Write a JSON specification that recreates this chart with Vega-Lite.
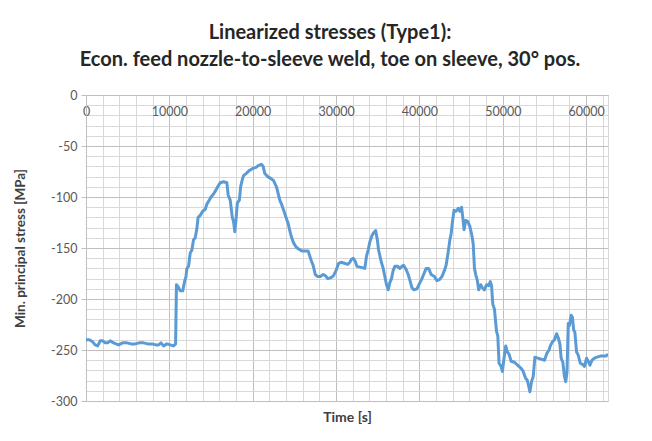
{
  "$schema": "https://vega.github.io/schema/vega-lite/v6.json",
  "width": 522,
  "height": 306,
  "autosize": {"type": "none"},
  "padding": {"left": 86, "top": 95, "right": 44, "bottom": 40},
  "background": "white",
  "config": {"view": {"stroke": "#d9d9d9"}, "font": "Lato"},
  "title": {
    "text": ["Linearized stresses (Type1):", "Econ. feed nozzle-to-sleeve weld, toe on sleeve, 30° pos."],
    "font": "Lato",
    "fontSize": 20,
    "fontWeight": "bold",
    "color": "#262626",
    "anchor": "middle",
    "dx": -17,
    "offset": 19,
    "lineHeight": 27
  },
  "data": {
    "values": [
      {"t": 0, "v": -240}, {"t": 400, "v": -240}, {"t": 800, "v": -242}, {"t": 1100, "v": -245}, {"t": 1400, "v": -246},
      {"t": 1700, "v": -241}, {"t": 2000, "v": -241}, {"t": 2300, "v": -243}, {"t": 2600, "v": -243}, {"t": 2900, "v": -241},
      {"t": 3300, "v": -243}, {"t": 3900, "v": -245}, {"t": 4400, "v": -243}, {"t": 4900, "v": -243}, {"t": 5400, "v": -244},
      {"t": 5900, "v": -244}, {"t": 6400, "v": -243}, {"t": 6900, "v": -243}, {"t": 7400, "v": -244}, {"t": 7900, "v": -244},
      {"t": 8400, "v": -245}, {"t": 8700, "v": -245}, {"t": 9000, "v": -243}, {"t": 9300, "v": -246}, {"t": 9700, "v": -244},
      {"t": 10100, "v": -245}, {"t": 10500, "v": -246}, {"t": 10750, "v": -244}, {"t": 10850, "v": -186}, {"t": 11050, "v": -188},
      {"t": 11300, "v": -192}, {"t": 11600, "v": -192}, {"t": 11850, "v": -182}, {"t": 12000, "v": -178}, {"t": 12100, "v": -170},
      {"t": 12300, "v": -168}, {"t": 12500, "v": -155}, {"t": 12700, "v": -152}, {"t": 12900, "v": -142}, {"t": 13100, "v": -140},
      {"t": 13300, "v": -131}, {"t": 13450, "v": -120}, {"t": 13700, "v": -118}, {"t": 14000, "v": -114}, {"t": 14300, "v": -112},
      {"t": 14500, "v": -107}, {"t": 14800, "v": -103}, {"t": 15000, "v": -100}, {"t": 15300, "v": -97}, {"t": 15600, "v": -93},
      {"t": 15800, "v": -90}, {"t": 16100, "v": -86}, {"t": 16500, "v": -85}, {"t": 16900, "v": -86}, {"t": 17050, "v": -98},
      {"t": 17300, "v": -103}, {"t": 17550, "v": -120}, {"t": 17700, "v": -124}, {"t": 17850, "v": -134}, {"t": 18000, "v": -122},
      {"t": 18150, "v": -106}, {"t": 18400, "v": -103}, {"t": 18550, "v": -90}, {"t": 18750, "v": -83}, {"t": 18900, "v": -79},
      {"t": 19200, "v": -77}, {"t": 19600, "v": -74}, {"t": 20000, "v": -72}, {"t": 20400, "v": -71}, {"t": 20700, "v": -69},
      {"t": 21050, "v": -68}, {"t": 21250, "v": -70}, {"t": 21450, "v": -77}, {"t": 21800, "v": -80}, {"t": 22200, "v": -82},
      {"t": 22500, "v": -84}, {"t": 22850, "v": -90}, {"t": 23250, "v": -103}, {"t": 23500, "v": -108}, {"t": 23750, "v": -114},
      {"t": 24000, "v": -120}, {"t": 24250, "v": -126}, {"t": 24450, "v": -133}, {"t": 24600, "v": -138}, {"t": 24900, "v": -145},
      {"t": 25200, "v": -149}, {"t": 25500, "v": -151}, {"t": 25900, "v": -153}, {"t": 26300, "v": -153}, {"t": 26650, "v": -153},
      {"t": 26850, "v": -158}, {"t": 27050, "v": -163}, {"t": 27250, "v": -167}, {"t": 27500, "v": -176}, {"t": 27800, "v": -178},
      {"t": 28100, "v": -178}, {"t": 28450, "v": -176}, {"t": 28700, "v": -177}, {"t": 29000, "v": -180}, {"t": 29400, "v": -179},
      {"t": 29700, "v": -177}, {"t": 30000, "v": -172}, {"t": 30300, "v": -165}, {"t": 30600, "v": -164}, {"t": 31000, "v": -165},
      {"t": 31400, "v": -166}, {"t": 31650, "v": -164}, {"t": 31850, "v": -161}, {"t": 32050, "v": -160}, {"t": 32300, "v": -163},
      {"t": 32500, "v": -168}, {"t": 33000, "v": -169}, {"t": 33450, "v": -170}, {"t": 33650, "v": -158}, {"t": 33850, "v": -152},
      {"t": 34050, "v": -144}, {"t": 34300, "v": -138}, {"t": 34500, "v": -135}, {"t": 34750, "v": -133}, {"t": 34950, "v": -142},
      {"t": 35100, "v": -152}, {"t": 35400, "v": -163}, {"t": 35650, "v": -170}, {"t": 35850, "v": -178}, {"t": 36050, "v": -186},
      {"t": 36250, "v": -191}, {"t": 36450, "v": -184}, {"t": 36650, "v": -180}, {"t": 36850, "v": -172}, {"t": 37050, "v": -168},
      {"t": 37400, "v": -168}, {"t": 37650, "v": -170}, {"t": 37900, "v": -168}, {"t": 38100, "v": -167}, {"t": 38400, "v": -171},
      {"t": 38650, "v": -176}, {"t": 38900, "v": -183}, {"t": 39100, "v": -189}, {"t": 39350, "v": -191}, {"t": 39700, "v": -190},
      {"t": 40000, "v": -185}, {"t": 40300, "v": -180}, {"t": 40550, "v": -175}, {"t": 40800, "v": -170}, {"t": 41100, "v": -170},
      {"t": 41400, "v": -176}, {"t": 41800, "v": -178}, {"t": 42100, "v": -182}, {"t": 42400, "v": -181}, {"t": 42700, "v": -178},
      {"t": 43000, "v": -172}, {"t": 43200, "v": -167}, {"t": 43450, "v": -154}, {"t": 43650, "v": -142}, {"t": 43800, "v": -136},
      {"t": 43950, "v": -125}, {"t": 44150, "v": -113}, {"t": 44400, "v": -114}, {"t": 44650, "v": -111}, {"t": 44850, "v": -114},
      {"t": 45050, "v": -110}, {"t": 45200, "v": -120}, {"t": 45350, "v": -132}, {"t": 45550, "v": -123}, {"t": 45800, "v": -124},
      {"t": 46050, "v": -129}, {"t": 46300, "v": -138}, {"t": 46450, "v": -146}, {"t": 46600, "v": -170}, {"t": 46750, "v": -176},
      {"t": 46950, "v": -182}, {"t": 47100, "v": -191}, {"t": 47350, "v": -186}, {"t": 47550, "v": -189}, {"t": 47800, "v": -191},
      {"t": 48050, "v": -186}, {"t": 48300, "v": -187}, {"t": 48500, "v": -183}, {"t": 48650, "v": -187}, {"t": 48800, "v": -205},
      {"t": 49000, "v": -210}, {"t": 49250, "v": -232}, {"t": 49400, "v": -236}, {"t": 49550, "v": -263}, {"t": 49800, "v": -266},
      {"t": 49950, "v": -271}, {"t": 50150, "v": -258}, {"t": 50350, "v": -246}, {"t": 50550, "v": -252}, {"t": 50750, "v": -254},
      {"t": 51000, "v": -261}, {"t": 51400, "v": -262}, {"t": 51800, "v": -265}, {"t": 52200, "v": -268}, {"t": 52450, "v": -271},
      {"t": 52700, "v": -277}, {"t": 52950, "v": -280}, {"t": 53150, "v": -287}, {"t": 53250, "v": -291}, {"t": 53450, "v": -281},
      {"t": 53650, "v": -276}, {"t": 53850, "v": -257}, {"t": 54200, "v": -258}, {"t": 54600, "v": -259}, {"t": 55000, "v": -260},
      {"t": 55300, "v": -253}, {"t": 55550, "v": -250}, {"t": 55700, "v": -246}, {"t": 55950, "v": -242}, {"t": 56200, "v": -240},
      {"t": 56450, "v": -234}, {"t": 56650, "v": -238}, {"t": 56850, "v": -244}, {"t": 57000, "v": -258}, {"t": 57200, "v": -262},
      {"t": 57400, "v": -276}, {"t": 57550, "v": -281}, {"t": 57700, "v": -272}, {"t": 57850, "v": -224}, {"t": 58000, "v": -226},
      {"t": 58200, "v": -216}, {"t": 58350, "v": -218}, {"t": 58500, "v": -230}, {"t": 58650, "v": -233}, {"t": 58850, "v": -252},
      {"t": 59050, "v": -255}, {"t": 59300, "v": -263}, {"t": 59550, "v": -264}, {"t": 59800, "v": -266}, {"t": 60050, "v": -258},
      {"t": 60250, "v": -261}, {"t": 60450, "v": -265}, {"t": 60700, "v": -260}, {"t": 61000, "v": -258}, {"t": 61300, "v": -257},
      {"t": 61700, "v": -256}, {"t": 62100, "v": -256}, {"t": 62400, "v": -256}, {"t": 62620, "v": -254}
    ]
  },
  "mark": {"type": "line", "color": "#5B9BD5", "strokeWidth": 3, "strokeJoin": "round", "clip": true},
  "encoding": {
    "x": {
      "field": "t",
      "type": "quantitative",
      "scale": {"domain": [0, 62620], "nice": false, "zero": false},
      "axis": {
        "orient": "bottom",
        "offset": -306,
        "values": [0, 2000, 4000, 6000, 8000, 10000, 12000, 14000, 16000, 18000, 20000, 22000, 24000, 26000, 28000, 30000, 32000, 34000, 36000, 38000, 40000, 42000, 44000, 46000, 48000, 50000, 52000, 54000, 56000, 58000, 60000, 62000],
        "labelExpr": "datum.value % 10000 === 0 ? datum.value + '' : ''",
        "labelFont": "Lato",
        "labelFontSize": 12.5,
        "labelColor": "#595959",
        "labelPadding": 10,
        "labelBaseline": "top",
        "labelFlush": false,
        "labelOverlap": false,
        "ticks": false,
        "domain": true,
        "domainColor": "#bfbfbf",
        "grid": true,
        "gridColor": {"condition": {"test": "datum.value % 10000 === 0", "value": "#bfbfbf"}, "value": "#d9d9d9"},
        "title": "Time [s]",
        "titleFont": "Lato",
        "titleFontSize": 14,
        "titleFontWeight": "bold",
        "titleColor": "#404040",
        "titleBaseline": "middle",
        "titleY": 322
      }
    },
    "y": {
      "field": "v",
      "type": "quantitative",
      "scale": {"domain": [-300, 0], "nice": false, "zero": false},
      "axis": {
        "values": [0, -10, -20, -30, -40, -50, -60, -70, -80, -90, -100, -110, -120, -130, -140, -150, -160, -170, -180, -190, -200, -210, -220, -230, -240, -250, -260, -270, -280, -290, -300],
        "labelExpr": "datum.value % 50 === 0 ? datum.value + '' : ''",
        "labelFont": "Lato",
        "labelFontSize": 12.5,
        "labelColor": "#595959",
        "labelPadding": 4,
        "labelOverlap": false,
        "labelFlush": false,
        "tickSize": 5,
        "tickColor": "#bfbfbf",
        "tickOpacity": {"condition": {"test": "datum.value % 50 === 0", "value": 1}, "value": 0},
        "domainColor": "#bfbfbf",
        "grid": true,
        "gridColor": {"condition": {"test": "datum.value % 50 === 0", "value": "#bfbfbf"}, "value": "#d9d9d9"},
        "title": "Min. principal stress [MPa]",
        "titleFont": "Lato",
        "titleFontSize": 13.5,
        "titleFontWeight": "bold",
        "titleColor": "#404040",
        "titleBaseline": "middle",
        "titleX": -66
      }
    }
  }
}
